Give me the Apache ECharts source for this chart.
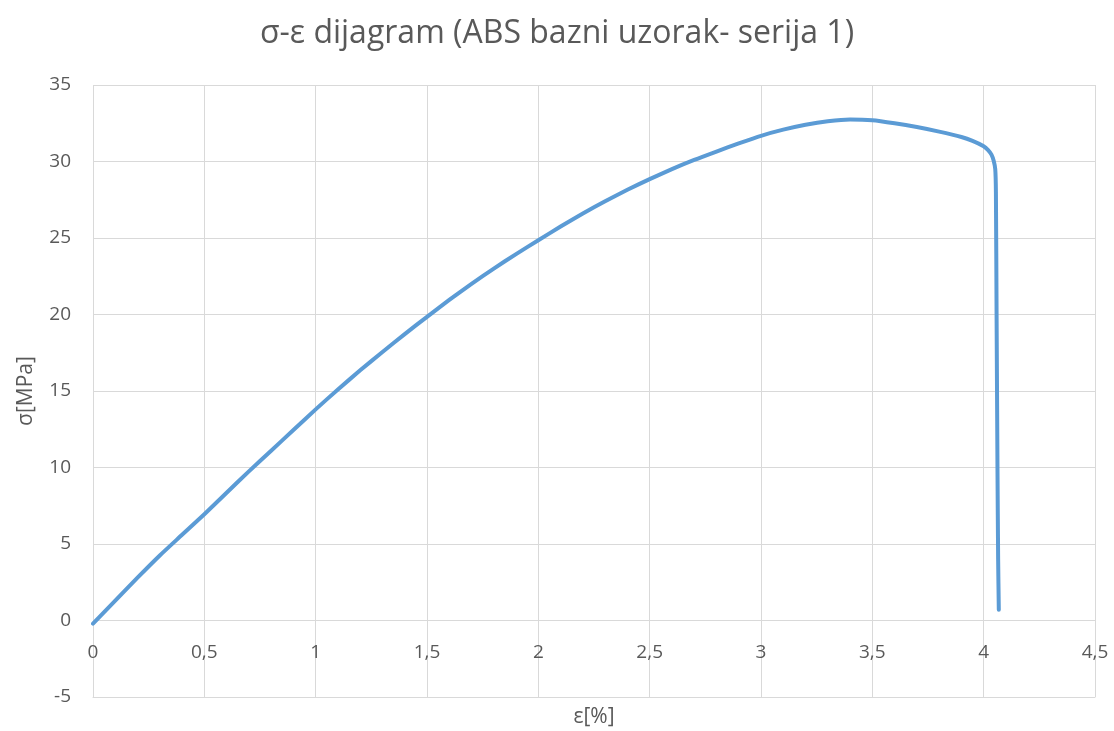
<!DOCTYPE html>
<html>
<head>
<meta charset="utf-8">
<script src="https://cdn.jsdelivr.net/npm/echarts@6/dist/echarts.min.js"></script>
<style>html,body{margin:0;padding:0;background:#fff}#c{width:1114px;height:731px}</style>
</head>
<body>
<div id="c"></div>
<script>
const titleText = 'σ-ε dijagram (ABS bazni uzorak- serija 1)';
const xName = 'ε[%]';
const yName = 'σ[MPa]';
const strain = [0, 0.05, 0.1, 0.2, 0.3, 0.4, 0.5, 0.6, 0.7, 0.8, 0.9, 1.0, 1.1, 1.2, 1.3, 1.4, 1.5, 1.6, 1.7, 1.8, 1.9, 2.0, 2.1, 2.2, 2.3, 2.4, 2.5, 2.6, 2.7, 2.8, 2.9, 3.0, 3.1, 3.2, 3.3, 3.4, 3.5, 3.6, 3.7, 3.8, 3.9, 3.95, 4.0, 4.02, 4.035, 4.045, 4.052, 4.055, 4.058, 4.062, 4.065, 4.068];
const stress = [-0.2, 0.55, 1.3, 2.8, 4.25, 5.6, 6.95, 8.35, 9.75, 11.1, 12.45, 13.8, 15.1, 16.35, 17.55, 18.72, 19.85, 20.95, 22.0, 23.0, 23.95, 24.85, 25.75, 26.6, 27.4, 28.15, 28.85, 29.5, 30.1, 30.65, 31.18, 31.68, 32.08, 32.4, 32.63, 32.75, 32.7, 32.5, 32.25, 31.95, 31.6, 31.35, 31.0, 30.75, 30.45, 30.05, 29.5, 28.0, 20.0, 10.0, 4.0, 0.7];
const xTicks = {min: 0, max: 4.5, interval: 0.5};
const yTicks = {min: -5, max: 35, interval: 5};

const points = strain.map((v, i) => [v, stress[i]]);
const chart = echarts.init(document.getElementById('c'));
const fontFam = '"Open Sans", "Noto Sans", sans-serif';
chart.setOption({
  animation: false,
  backgroundColor: '#ffffff',
  title: {
    text: titleText, left: 'center', top: 13,
    textStyle: {fontFamily: fontFam, fontSize: 32, fontWeight: 'normal', color: '#595959'}
  },
  grid: {left: 93, right: 19, top: 85, bottom: 34, containLabel: false, outerBoundsMode: 'none'},
  xAxis: {
    type: 'value', min: xTicks.min, max: xTicks.max, interval: xTicks.interval,
    position: 'bottom',
    name: xName, nameLocation: 'middle', nameGap: 10, nameMoveOverlap: false,
    nameTextStyle: {fontFamily: fontFam, fontSize: 21, color: '#595959'},
    axisLine: {show: true, onZero: false, lineStyle: {color: '#d9d9d9', width: 1}},
    axisTick: {show: false},
    axisLabel: {margin: -54, fontFamily: fontFam, fontSize: 19, color: '#595959',
      formatter: v => String(v).replace('.', ',')},
    splitLine: {show: true, lineStyle: {color: '#d9d9d9', width: 1}}
  },
  yAxis: {
    type: 'value', min: yTicks.min, max: yTicks.max, interval: yTicks.interval,
    name: yName, nameLocation: 'middle', nameGap: 56,
    nameTextStyle: {fontFamily: fontFam, fontSize: 21, color: '#595959'},
    axisLine: {show: false, onZero: false},
    axisTick: {show: false},
    axisLabel: {margin: 22, fontFamily: fontFam, fontSize: 19, color: '#595959'},
    splitLine: {show: true, lineStyle: {color: '#d9d9d9', width: 1}}
  },
  series: [{
    type: 'line', data: points, showSymbol: false, smooth: 0.2,
    lineStyle: {color: '#5b9bd5', width: 4, cap: 'round', join: 'round'}
  }]
});
</script>
</body>
</html>
